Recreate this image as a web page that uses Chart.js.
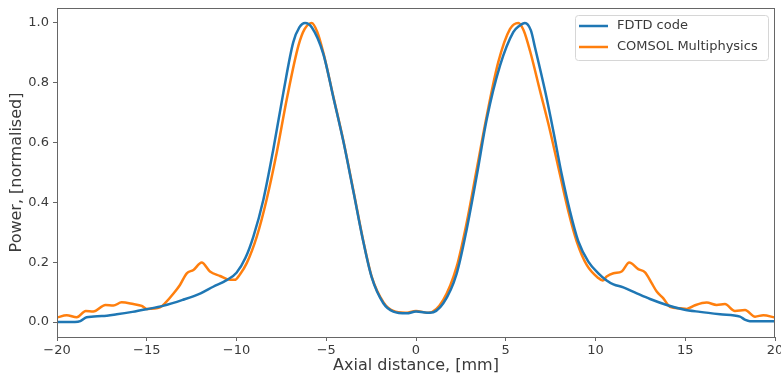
<!DOCTYPE html>
<html>
<head>
<meta charset="utf-8">
<script src="https://cdn.jsdelivr.net/npm/chart.js@4"></script>
<style>
  html, body { margin: 0; padding: 0; background: #fff; }
  #wrap { width: 781px; height: 377px; }
</style>
</head>
<body>
<div id="wrap"><canvas id="powerChart"></canvas></div>
<script>
// values (x in mm, power normalised)
const fdtdX = [-20, -19.0, -18.7, -18.35, -17.5, -16.67, -15.8, -15.0, -14.1, -13.0, -12.0, -11.3, -10.55, -10.0, -9.5, -9.06, -8.5, -7.95, -7.39, -6.84, -6.5, -6.18, -5.8, -5.16, -4.6, -4.05, -3.49, -2.94, -2.47, -1.82, -1.26, -0.52, 0.0, 0.78, 1.52, 2.27, 2.82, 3.38, 3.94, 4.68, 5.42, 5.75, 6.07, 6.4, 6.63, 7.19, 7.65, 8.12, 8.58, 9.04, 9.6, 10.16, 10.6, 11.0, 11.55, 12.3, 13.04, 13.97, 14.9, 15.82, 16.94, 18.05, 18.35, 18.6, 20];
const fdtdY = [0.0, 0.0, 0.003, 0.016, 0.02, 0.026, 0.034, 0.043, 0.054, 0.074, 0.096, 0.118, 0.14, 0.165, 0.215, 0.286, 0.41, 0.577, 0.767, 0.935, 0.985, 1.0, 0.985, 0.896, 0.75, 0.605, 0.437, 0.27, 0.15, 0.063, 0.035, 0.029, 0.035, 0.031, 0.063, 0.163, 0.309, 0.488, 0.678, 0.857, 0.969, 0.99, 1.0, 0.975, 0.918, 0.773, 0.639, 0.493, 0.37, 0.27, 0.202, 0.163, 0.14, 0.126, 0.116, 0.096, 0.077, 0.057, 0.042, 0.034, 0.026, 0.018, 0.007, 0.003, 0.003];

const comsolX = [-20, -19.46, -18.9, -18.4, -17.98, -17.3, -16.86, -16.4, -15.75, -15.28, -15.0, -14.26, -13.98, -13.5, -13.15, -12.77, -12.4, -11.94, -11.48, -10.92, -10.36, -10.1, -9.8, -9.43, -8.87, -8.32, -7.76, -7.2, -6.55, -6.2, -5.81, -5.5, -5.16, -4.6, -4.05, -3.49, -2.94, -2.47, -1.8, -1.26, -0.6, 0.0, 0.7, 1.52, 2.27, 2.82, 3.38, 3.94, 4.58, 5.24, 5.7, 6.0, 6.35, 6.91, 7.47, 8.02, 8.49, 8.95, 9.51, 10.16, 10.4, 10.62, 11.0, 11.46, 11.88, 12.38, 12.76, 13.13, 13.41, 13.78, 14.15, 14.71, 15.08, 15.54, 16.19, 16.75, 17.21, 17.77, 18.33, 18.89, 19.35, 20];
const comsolY = [0.015, 0.023, 0.016, 0.037, 0.035, 0.057, 0.055, 0.066, 0.06, 0.054, 0.044, 0.049, 0.063, 0.096, 0.124, 0.163, 0.174, 0.199, 0.169, 0.154, 0.141, 0.141, 0.16, 0.197, 0.286, 0.41, 0.566, 0.745, 0.924, 0.98, 1.0, 0.97, 0.9, 0.752, 0.607, 0.44, 0.272, 0.152, 0.065, 0.037, 0.031, 0.037, 0.031, 0.074, 0.186, 0.331, 0.51, 0.689, 0.868, 0.98, 1.0, 0.975, 0.907, 0.773, 0.639, 0.493, 0.37, 0.27, 0.191, 0.147, 0.139, 0.152, 0.163, 0.169, 0.199, 0.177, 0.166, 0.13, 0.102, 0.079, 0.051, 0.046, 0.044, 0.056, 0.065, 0.057, 0.06, 0.037, 0.04, 0.018, 0.023, 0.015];

const xTicks = [-20, -15, -10, -5, 0, 5, 10, 15, 20];
const yTicks = [0.0, 0.2, 0.4, 0.6, 0.8, 1.0];

function pairs(xs, ys) {
  return xs.map((x, i) => ({ x: x, y: ys[i] }));
}

const FONT = "'DejaVu Sans', sans-serif";
const TEXT = "#3a3a3a";
const FRAME = "#666";

// matplotlib style box + legend in the upper right corner
const boxLegend = {
  id: "boxLegend",
  afterDatasetsDraw(chart) {
    const ctx = chart.ctx;
    const a = chart.chartArea;
    ctx.save();
    ctx.strokeStyle = FRAME;
    ctx.lineWidth = 1;
    ctx.strokeRect(a.left + 0.5, a.top + 0.5, a.right - a.left - 1, a.bottom - a.top);

    const bx = 575, by = 15, bw = 193, bh = 45;
    ctx.beginPath();
    ctx.roundRect(bx + 0.5, by + 0.5, bw, bh, 3);
    ctx.fillStyle = "rgba(255,255,255,0.85)";
    ctx.fill();
    ctx.strokeStyle = "#d6d6d6";
    ctx.stroke();

    ctx.font = "13px " + FONT;
    ctx.textBaseline = "middle";
    chart.data.datasets.forEach((ds, i) => {
      const yy = 26 + i * 21;
      ctx.beginPath();
      ctx.moveTo(579, yy);
      ctx.lineTo(608, yy);
      ctx.strokeStyle = ds.borderColor;
      ctx.lineWidth = 2.5;
      ctx.stroke();
      ctx.fillStyle = TEXT;
      ctx.fillText(ds.label, 617, yy);
    });
    ctx.restore();
  },
};

new Chart(document.querySelector("#powerChart"), {
  type: "line",
  data: {
    datasets: [
      {
        label: "FDTD code",
        data: pairs(fdtdX, fdtdY),
        borderColor: "#1f77b4",
        backgroundColor: "#1f77b4",
        borderWidth: 2.5,
        pointRadius: 0,
        cubicInterpolationMode: "monotone",
      },
      {
        label: "COMSOL Multiphysics",
        data: pairs(comsolX, comsolY),
        borderColor: "#ff7f0e",
        backgroundColor: "#ff7f0e",
        borderWidth: 2.5,
        pointRadius: 0,
        cubicInterpolationMode: "monotone",
      },
    ],
  },
  options: {
    responsive: true,
    maintainAspectRatio: false,
    animation: false,
    layout: { padding: { top: 8, right: 6, left: 0, bottom: 0 } },
    plugins: {
      legend: { display: false },
      tooltip: { enabled: false },
    },
    scales: {
      x: {
        type: "linear",
        min: -20,
        max: 20,
        afterBuildTicks: (s) => { s.ticks = xTicks.map((v) => ({ value: v })); },
        afterFit: (s) => { s.height = 40; s.paddingLeft = 0; s.paddingRight = 0; },
        grid: { drawOnChartArea: false, drawTicks: true, tickLength: 4, color: FRAME },
        border: { display: true, color: FRAME },
        ticks: {
          color: TEXT,
          font: { family: FONT, size: 13 },
          padding: 2,
          maxRotation: 0,
          callback: (v) => String(v).replace("-", "\u2212"),
        },
        title: {
          display: true,
          text: "Axial distance, [mm]",
          color: TEXT,
          font: { family: FONT, size: 16 },
          padding: { top: 0, bottom: 2 },
        },
      },
      y: {
        type: "linear",
        min: -0.05,
        max: 1.05,
        afterBuildTicks: (s) => { s.ticks = yTicks.map((v) => ({ value: v })); },
        afterFit: (s) => { s.width = 57; s.paddingTop = 0; s.paddingBottom = 0; },
        grid: { drawOnChartArea: false, drawTicks: true, tickLength: 4, color: FRAME },
        border: { display: true, color: FRAME },
        ticks: {
          color: TEXT,
          font: { family: FONT, size: 13 },
          padding: 4,
          callback: (v) => v.toFixed(1),
        },
        title: {
          display: true,
          text: "Power, [normalised]",
          color: TEXT,
          font: { family: FONT, size: 16 },
          padding: { top: 7, bottom: 0 },
        },
      },
    },
  },
  plugins: [boxLegend],
});
</script>
</body>
</html>
